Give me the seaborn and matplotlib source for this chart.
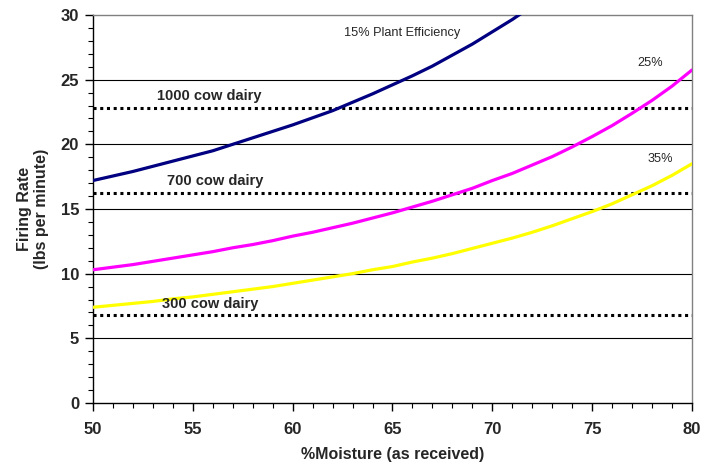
import numpy as np
import pandas as pd
import matplotlib
matplotlib.use("Agg")
import matplotlib.pyplot as plt
from matplotlib.ticker import MultipleLocator
import seaborn as sns

# moisture (%) readings and firing rate (lbs per minute)
moisture = list(range(50, 81))
eff_15 = [17.2, 17.55, 17.9, 18.3, 18.7, 19.1, 19.5, 20.0, 20.5, 21.0,
          21.5, 22.05, 22.6, 23.25, 23.9, 24.6, 25.3, 26.05, 26.9, 27.75,
          28.7, 29.65, 30.7] + [None] * 8
eff_25 = [10.3, 10.5, 10.7, 10.95, 11.2, 11.45, 11.7, 12.0, 12.25, 12.55,
          12.9, 13.2, 13.55, 13.9, 14.3, 14.7, 15.15, 15.6, 16.1, 16.6,
          17.2, 17.75, 18.4, 19.05, 19.8, 20.6, 21.45, 22.4, 23.4, 24.5, 25.75]
eff_35 = [7.4, 7.55, 7.7, 7.85, 8.05, 8.2, 8.4, 8.6, 8.8, 9.0,
          9.25, 9.5, 9.75, 10.0, 10.3, 10.55, 10.9, 11.2, 11.55, 11.95,
          12.35, 12.75, 13.2, 13.7, 14.25, 14.8, 15.4, 16.1, 16.8, 17.6, 18.5]

# dairy herd demand lines
herd_labels = ["1000 cow dairy", "700 cow dairy", "300 cow dairy"]
herd_rates = [22.77, 16.25, 6.78]

sns.set_style("white")
plt.rcParams['font.family'] = ['Liberation Sans', 'DejaVu Sans']

df = pd.DataFrame({"moisture": moisture, "15%": eff_15, "25%": eff_25, "35%": eff_35})
long = df.melt(id_vars="moisture", var_name="eff", value_name="rate").dropna()

fig = plt.figure(figsize=(7.04, 4.70), dpi=100)
ax = fig.add_axes([0.132, 0.1426, 0.851, 0.8255])

for y in [5, 10, 15, 20, 25]:
    ax.axhline(y, color="black", lw=0.8, zorder=1)

sns.lineplot(data=long, x="moisture", y="rate", hue="eff",
             palette={"15%": "#000080", "25%": "#FF00FF", "35%": "#FFFF00"},
             linewidth=2.3, legend=False, ax=ax, zorder=3)

for lab, r in zip(herd_labels, herd_rates):
    ax.axhline(r, color="black", lw=2.2, linestyle=(0, (1, 1.2)), zorder=2)

ax.text(53.2, 23.7, herd_labels[0], fontsize=10.5, fontweight="bold", va="center")
ax.text(53.7, 17.2, herd_labels[1], fontsize=10.5, fontweight="bold", va="center")
ax.text(53.45, 7.65, herd_labels[2], fontsize=10.5, fontweight="bold", va="center")

ax.text(65.5, 28.6, "15% Plant Efficiency", fontsize=9.2, ha="center", va="center")
ax.text(77.9, 26.3, "25%", fontsize=9.2, ha="center", va="center")
ax.text(78.4, 18.9, "35%", fontsize=9.2, ha="center", va="center")

ax.set_xlim(50, 80)
ax.set_ylim(0, 30)
ax.xaxis.set_major_locator(MultipleLocator(5))
ax.xaxis.set_minor_locator(MultipleLocator(1))
ax.yaxis.set_major_locator(MultipleLocator(5))
ax.yaxis.set_minor_locator(MultipleLocator(1))
ax.tick_params(which="both", bottom=True, left=True, top=False, right=False)
ax.tick_params(which="major", direction="out", length=6, width=1, color="black",
               labelsize=12, pad=4)
ax.tick_params(which="minor", direction="out", length=3.5, width=0.8, color="black")
ax.tick_params(axis="x", pad=8)
for t in ax.get_xticklabels() + ax.get_yticklabels():
    t.set_fontweight("bold")

ax.spines["left"].set_color("black")
ax.spines["bottom"].set_color("black")
ax.spines["top"].set_color("#808080")
ax.spines["right"].set_color("#808080")
for s in ax.spines.values():
    s.set_linewidth(1)

ax.set_xlabel("%Moisture (as received)", fontsize=11.5, fontweight="bold", labelpad=7)
ax.set_ylabel("Firing Rate\n(lbs per minute)", fontsize=11.5, fontweight="bold", labelpad=8)

fig.savefig("out.png", dpi=100)
